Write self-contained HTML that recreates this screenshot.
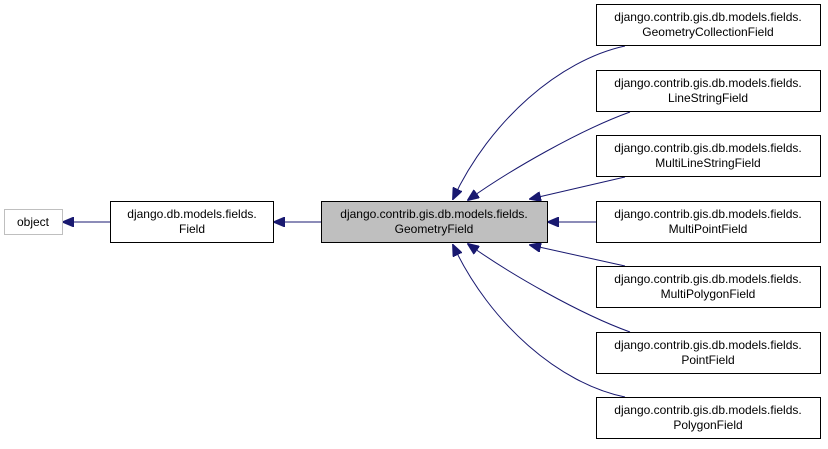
<!DOCTYPE html>
<html><head><style>
body{margin:0;background:#fff;width:828px;height:444px;overflow:hidden}
svg text{font-family:"Liberation Sans",Arial,sans-serif;font-size:12px}
</style></head><body>
<svg width="828" height="444" viewBox="0 0 828 444" xmlns="http://www.w3.org/2000/svg">
<defs><marker id="a" markerWidth="12" markerHeight="10" refX="11" refY="5" orient="auto" markerUnits="userSpaceOnUse"><path d="M0,0 L12,5 L0,10 Z" fill="#191970" stroke="#191970"/></marker></defs>
<g fill="none" stroke="#191970" stroke-width="1">
<path d="M110,222 L63,222" marker-end="url(#a)"/>
<path d="M321,222 L274,222" marker-end="url(#a)"/>
<path d="M596,222 L548,222" marker-end="url(#a)"/>
<path d="M625,46 C560,60 490,120 453,199" marker-end="url(#a)"/>
<path d="M630,112 C580,130 510,170 468,200" marker-end="url(#a)"/>
<path d="M625,177 L530,199" marker-end="url(#a)"/>
<path d="M625,266 L530,245" marker-end="url(#a)"/>
<path d="M630,332 C580,314 510,274 468,244" marker-end="url(#a)"/>
<path d="M625,397 C560,384 490,324 453,245" marker-end="url(#a)"/>
</g>
<rect x="4.5" y="209.5" width="58" height="25" fill="#fff" stroke="#bfbfbf"/>
<text x="33" y="226" text-anchor="middle">object</text>
<rect x="110.5" y="201.5" width="163" height="41" fill="#fff" stroke="#000"/>
<text x="192" y="218" text-anchor="middle">django.db.models.fields.</text>
<text x="192" y="233" text-anchor="middle">Field</text>
<rect x="321.5" y="201.5" width="226" height="41" fill="#bfbfbf" stroke="#000"/>
<text x="434" y="218" text-anchor="middle">django.contrib.gis.db.models.fields.</text>
<text x="434" y="233" text-anchor="middle">GeometryField</text>
<g fill="#fff" stroke="#000">
<rect x="596.5" y="4.5" width="224" height="41"/>
<rect x="596.5" y="70.5" width="224" height="41"/>
<rect x="596.5" y="135.5" width="224" height="41"/>
<rect x="596.5" y="201.5" width="224" height="41"/>
<rect x="596.5" y="266.5" width="224" height="41"/>
<rect x="596.5" y="332.5" width="224" height="41"/>
<rect x="596.5" y="397.5" width="224" height="41"/>
</g>
<g text-anchor="middle">
<text x="708" y="21">django.contrib.gis.db.models.fields.</text><text x="708" y="36">GeometryCollectionField</text>
<text x="708" y="87">django.contrib.gis.db.models.fields.</text><text x="708" y="102">LineStringField</text>
<text x="708" y="152">django.contrib.gis.db.models.fields.</text><text x="708" y="167">MultiLineStringField</text>
<text x="708" y="218">django.contrib.gis.db.models.fields.</text><text x="708" y="233">MultiPointField</text>
<text x="708" y="283">django.contrib.gis.db.models.fields.</text><text x="708" y="298">MultiPolygonField</text>
<text x="708" y="349">django.contrib.gis.db.models.fields.</text><text x="708" y="364">PointField</text>
<text x="708" y="414">django.contrib.gis.db.models.fields.</text><text x="708" y="429">PolygonField</text>
</g>
</svg>
</body></html>
